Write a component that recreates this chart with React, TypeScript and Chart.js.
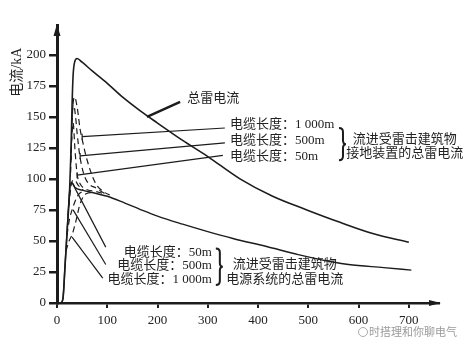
import { useEffect, useRef } from "react";
import { Chart, registerables } from "chart.js";

Chart.register(...registerables);

// ---------- data ----------
const xTickValues = [0, 100, 200, 300, 400, 500, 600, 700];
const yTickValues = [0, 25, 50, 75, 100, 125, 150, 175, 200];

// 总雷电流
const totalX = [8, 12, 16, 20, 25, 28, 30, 32, 35, 40, 50, 70, 100, 130, 165, 200, 250, 300, 364, 429, 497, 563, 628, 700];
const totalY = [0, 4, 30, 57, 90, 125, 160, 183, 194, 197, 194, 187, 177, 166, 155, 145, 131, 118, 100, 86, 75, 65, 56, 49];

// 流进电源系统的总雷电流 (lower solid curve)
const powerX = [8, 12, 16, 20, 25, 28, 32, 36, 50, 70, 100, 135, 165, 200, 250, 300, 350, 417, 480, 549, 580, 650, 705];
const powerY = [0, 4, 30, 57, 90, 97, 96, 93, 91, 89, 86, 80.5, 75.5, 70, 63.5, 57.5, 52, 45.5, 39, 33, 31, 28.5, 26.5];

// 接地装置 (dashed, upper)
const g1000X = [28, 31, 35, 40, 46, 50, 60, 76, 95, 105];
const g1000Y = [120, 155, 166, 158, 140, 132, 115, 97, 89, 87];
const g500X = [28, 30, 33, 37, 40, 46, 56, 80, 100];
const g500Y = [115, 148, 160, 150, 137, 117, 101, 92, 87];
const g50X = [27, 29, 32, 36, 40, 46, 56, 75, 95];
const g50Y = [105, 130, 145, 122, 104, 96, 92, 90, 88];

// 电源系统 (dashed, lower)
const p50X = [22, 26, 30, 35, 42, 52];
const p50Y = [70, 88, 98, 99, 95, 91];
const p500X = [20, 25, 30, 36, 44, 56];
const p500Y = [55, 68, 75, 82, 88, 90];
const p1000X = [18, 24, 30, 37, 46, 58, 70];
const p1000Y = [42, 50, 55, 65, 80, 88, 89];

const upperLabels = ["电缆长度：1 000m", "电缆长度：500m", "电缆长度：50m"];
const lowerLabels = ["电缆长度：50m", "电缆长度：500m", "电缆长度：1 000m"];
const upperGroup = ["流进受雷击建筑物", "接地装置的总雷电流"];
const lowerGroup = ["流进受雷击建筑物", "电源系统的总雷电流"];
const totalLabel = "总雷电流";
const yTitle = "电流/kA";
const watermark = "时搭理和你聊电气";

// annotation anchors (data coordinates)
const totalLeader = [[179, 150], [245, 162]];
const totalLabelAt = [259, 164.5];
const upperLeaders = [
  [[50, 134], [334, 141]],
  [[46, 118.5], [334, 129]],
  [[40, 103], [330, 119]],
];
const upperLabelAt = [[344, 143.5], [344, 130.5], [344, 118]];
const upperBrace = [563, 141, 115];
const upperGroupAt = [[692, 132], [692, 120.5]];
const lowerLeaders = [
  [[30, 97], [97, 45]],
  [[32, 75], [97, 31]],
  [[30, 53], [91, 20]],
];
const lowerLabelAt = [[308, 41], [308, 30], [308, 18.5]];
const lowerBrace = [318, 44, 14.5];
const lowerGroupAt = [[453, 30.6], [453, 18.5]];

const zip = (xs: number[], ys: number[]) => xs.map((x, i) => ({ x, y: ys[i] }));

const FONT = '"Liberation Serif", "Noto Sans CJK SC", serif';
const INK = "#1c1c1c";

const annotations = {
  id: "annotations",
  afterDraw(chart: any) {
    const { ctx, chartArea: ca } = chart;
    const xs = chart.scales.x;
    const ys = chart.scales.y;
    const P = (p: number[]) => [xs.getPixelForValue(p[0]), ys.getPixelForValue(p[1])];
    ctx.save();
    ctx.strokeStyle = INK;
    ctx.fillStyle = INK;

    // axis arrows
    ctx.beginPath();
    ctx.moveTo(ca.left, ca.top - 1);
    ctx.lineTo(ca.left - 3.5, ca.top + 11);
    ctx.lineTo(ca.left + 3.5, ca.top + 11);
    ctx.closePath();
    ctx.fill();
    ctx.beginPath();
    ctx.moveTo(ca.right + 2, ca.bottom);
    ctx.lineTo(ca.right - 10, ca.bottom - 3);
    ctx.lineTo(ca.right - 10, ca.bottom + 3);
    ctx.closePath();
    ctx.fill();

    const line = (a: number[], b: number[], w: number) => {
      const p = P(a), q = P(b);
      ctx.lineWidth = w;
      ctx.beginPath();
      ctx.moveTo(p[0], p[1]);
      ctx.lineTo(q[0], q[1]);
      ctx.stroke();
    };

    // total leader
    line(totalLeader[0], totalLeader[1], 2.5);
    // upper leaders
    upperLeaders.forEach((l) => {
      line(l[0], l[1], 1.2);
      const p = P(l[0]);
      ctx.lineWidth = 1.2;
      ctx.beginPath();
      ctx.moveTo(p[0], p[1] - 3);
      ctx.lineTo(p[0], p[1] + 3);
      ctx.stroke();
    });
    lowerLeaders.forEach((l) => line(l[0], l[1], 1.2));

    const brace = (b: number[]) => {
      const x = xs.getPixelForValue(b[0]);
      const top = ys.getPixelForValue(b[1]);
      const bot = ys.getPixelForValue(b[2]);
      const mid = (top + bot) / 2;
      const w = 3;
      ctx.lineWidth = 2;
      ctx.beginPath();
      ctx.moveTo(x - 1, top);
      ctx.quadraticCurveTo(x + w, top, x + w, top + 4);
      ctx.lineTo(x + w, mid - 4);
      ctx.quadraticCurveTo(x + w, mid, x + 2 * w, mid);
      ctx.quadraticCurveTo(x + w, mid, x + w, mid + 4);
      ctx.lineTo(x + w, bot - 4);
      ctx.quadraticCurveTo(x + w, bot, x - 1, bot);
      ctx.stroke();
    };
    brace(upperBrace);
    brace(lowerBrace);

    ctx.font = `13px ${FONT}`;
    ctx.textBaseline = "middle";
    ctx.fillStyle = "#222";
    const text = (s: string, at: number[], align: string) => {
      const p = P(at);
      ctx.textAlign = align;
      ctx.fillText(s, p[0], p[1]);
    };
    text(totalLabel, totalLabelAt, "left");
    upperLabels.forEach((s, i) => text(s, upperLabelAt[i], "left"));
    lowerLabels.forEach((s, i) => text(s, lowerLabelAt[i], "right"));
    upperGroup.forEach((s, i) => text(s, upperGroupAt[i], "center"));
    lowerGroup.forEach((s, i) => text(s, lowerGroupAt[i], "center"));

    // y axis title
    ctx.save();
    ctx.font = `14px ${FONT}`;
    ctx.translate(ca.left - 40, ys.getPixelForValue(186));
    ctx.rotate(-Math.PI / 2);
    ctx.textAlign = "center";
    ctx.fillText(yTitle, 0, 0);
    ctx.restore();

    // watermark
    ctx.font = `11px "Noto Sans CJK SC", sans-serif`;
    ctx.fillStyle = "#9a9a9a";
    ctx.textAlign = "left";
    ctx.fillText(watermark, ca.right - 70, ca.bottom + 29);
    ctx.strokeStyle = "#aaaaaa";
    ctx.lineWidth = 1;
    ctx.beginPath();
    ctx.arc(ca.right - 76, ca.bottom + 29, 4.5, 0, Math.PI * 2);
    ctx.stroke();

    ctx.restore();
  },
};

export default function App() {
  const ref = useRef<HTMLCanvasElement | null>(null);

  useEffect(() => {
    if (!ref.current) return;
    const solid = (data: any[], w = 1.5) => ({
      data,
      borderColor: INK,
      borderWidth: w,
      pointRadius: 0,
      fill: false,
      cubicInterpolationMode: "monotone",
    });
    const dashed = (data: any[]) => ({
      ...solid(data, 1.2),
      borderDash: [6, 4],
    });

    const chart = new Chart(ref.current, {
      type: "line",
      data: {
        datasets: [
          solid(zip(totalX, totalY), 1.6),
          solid(zip(powerX, powerY), 1.4),
          dashed(zip(g1000X, g1000Y)),
          dashed(zip(g500X, g500Y)),
          dashed(zip(g50X, g50Y)),
          dashed(zip(p50X, p50Y)),
          dashed(zip(p500X, p500Y)),
          dashed(zip(p1000X, p1000Y)),
        ] as any,
      },
      options: {
        responsive: false,
        animation: false,
        parsing: true,
        layout: { padding: { left: 0, top: 25, right: 36, bottom: 0 } },
        plugins: { legend: { display: false }, tooltip: { enabled: false } },
        scales: {
          x: {
            type: "linear",
            min: 0,
            max: 760,
            afterBuildTicks: (s: any) => {
              s.ticks = xTickValues.map((v) => ({ value: v }));
            },
            afterFit: (s: any) => {
              s.height = 50;
            },
            border: { display: true, color: INK, width: 2.5 },
            grid: { drawOnChartArea: false, drawTicks: true, tickLength: 5, color: INK, lineWidth: 2 },
            ticks: { color: "#222", font: { family: FONT, size: 13 }, padding: 5, maxRotation: 0 },
          },
          y: {
            type: "linear",
            min: 0,
            max: 224,
            afterBuildTicks: (s: any) => {
              s.ticks = yTickValues.map((v) => ({ value: v }));
            },
            afterFit: (s: any) => {
              s.width = 57;
            },
            border: { display: true, color: INK, width: 3 },
            grid: { drawOnChartArea: false, drawTicks: true, tickLength: 8, color: INK, lineWidth: 2.5 },
            ticks: { color: "#222", font: { family: FONT, size: 13 }, padding: 3 },
          },
        },
      } as any,
      plugins: [annotations],
    });
    return () => chart.destroy();
  }, []);

  return (
    <div style={{ position: "absolute", left: 0, top: 0, width: 475, height: 353, background: "#fff" }}>
      <canvas ref={ref} width={475} height={353} />
    </div>
  );
}
